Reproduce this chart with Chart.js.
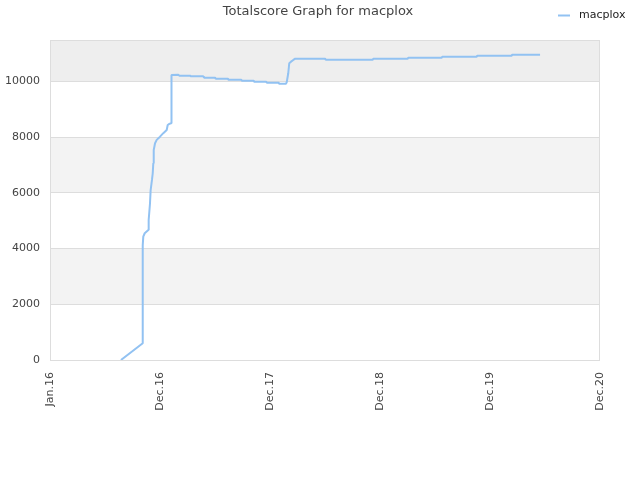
<!DOCTYPE html>
<html>
<head>
<meta charset="utf-8">
<script src="https://cdn.jsdelivr.net/npm/chart.js@4"></script>
<style>
html,body{margin:0;padding:0;background:#fff;}
#wrap{width:640px;height:480px;}
</style>
</head>
<body>
<div id="wrap"><canvas id="c" width="640" height="480"></canvas></div>
<script>
// Tick labels of the x axis (one per equally spaced tick)
const xTickLabels = ["Jan.16", "Dec.16", "Dec.17", "Dec.18", "Dec.19", "Dec.20"];
// x positions in tick units (0 = Jan.16, 1 = Dec.16, ...)
const scoreX = [0.645, 0.843, 0.843, 0.848, 0.861, 0.894, 0.897, 0.909, 0.915, 0.927, 0.934, 0.939, 0.943, 0.955, 0.970, 1.000, 1.030, 1.061, 1.070, 1.085, 1.100, 1.100, 1.109, 1.166, 1.175, 1.273, 1.282, 1.394, 1.400, 1.500, 1.506, 1.618, 1.621, 1.739, 1.743, 1.852, 1.855, 1.966, 1.970, 2.079, 2.082, 2.145, 2.152, 2.166, 2.175, 2.191, 2.212, 2.230, 2.500, 2.506, 2.934, 2.939, 3.252, 3.257, 3.561, 3.566, 3.879, 3.885, 4.197, 4.203, 4.455];
// total score values
const scoreY = [0, 600, 4110, 4425, 4547, 4662, 5024, 5615, 6097, 6459, 6700, 7057, 7535, 7776, 7896, 8012, 8138, 8253, 8429, 8469, 8494, 9333, 10227, 10237, 10200, 10200, 10176, 10176, 10129, 10129, 10093, 10093, 10057, 10057, 10021, 10021, 9986, 9986, 9950, 9950, 9914, 9914, 9965, 10287, 10646, 10703, 10764, 10810, 10810, 10775, 10775, 10810, 10810, 10846, 10846, 10882, 10882, 10918, 10918, 10954, 10954];
const yTicks = [0, 2000, 4000, 6000, 8000, 10000];
const yMax = 11480;
const seriesName = "macplox";
const titleText = "Totalscore Graph for macplox";

const points = scoreX.map((x, i) => ({x: x, y: scoreY[i]}));
const FONT = "'DejaVu Sans', Verdana, sans-serif";
const LINE_COLOR = '#92c2f2';

const bandPlugin = {
  id: 'bands',
  beforeDraw(chart) {
    const {ctx, chartArea: a, scales: {y}} = chart;
    ctx.save();
    const edges = yTicks.concat([yMax]);
    for (let i = 0; i < edges.length - 1; i++) {
      let col = null;
      if (i % 2 === 1) col = '#f3f3f3';
      if (i === edges.length - 2) col = '#eeeeee';
      if (!col) continue;
      const top = y.getPixelForValue(edges[i + 1]);
      const bot = y.getPixelForValue(edges[i]);
      ctx.fillStyle = col;
      ctx.fillRect(a.left, top, a.right - a.left, bot - top);
    }
    ctx.restore();
  },
  afterDraw(chart) {
    const {ctx, chartArea: a} = chart;
    ctx.save();
    ctx.strokeStyle = '#dddddd';
    ctx.lineWidth = 1;
    ctx.strokeRect(a.left + 0.5, a.top + 0.5, a.right - a.left - 1, a.bottom - a.top);
    // title
    ctx.fillStyle = '#444444';
    ctx.font = '13px ' + FONT;
    ctx.textAlign = 'center';
    ctx.textBaseline = 'middle';
    ctx.fillText(titleText, 318, 12);
    // legend
    ctx.strokeStyle = LINE_COLOR;
    ctx.lineWidth = 2;
    ctx.beginPath();
    ctx.moveTo(558, 15.5);
    ctx.lineTo(570, 15.5);
    ctx.stroke();
    ctx.fillStyle = '#222222';
    ctx.font = '11px ' + FONT;
    ctx.textAlign = 'left';
    ctx.fillText(seriesName, 579, 15);
    ctx.restore();
  }
};

new Chart(document.getElementById('c'), {
  type: 'line',
  data: {
    datasets: [{
      label: seriesName,
      data: points,
      borderColor: LINE_COLOR,
      borderWidth: 2,
      borderJoinStyle: 'bevel',
      pointRadius: 0,
      fill: false,
      tension: 0
    }]
  },
  options: {
    responsive: false,
    animation: false,
    devicePixelRatio: 1,
    layout: {padding: {top: 40, right: 40, left: 0, bottom: 0}},
    plugins: {legend: {display: false}, title: {display: false}, tooltip: {enabled: false}},
    scales: {
      x: {
        type: 'linear',
        min: 0, max: 5,
        afterFit(s) { s.height = 120; },
        afterBuildTicks(s) { s.ticks = xTickLabels.map((_, i) => ({value: i})); },
        grid: {display: false, drawTicks: false},
        border: {display: false},
        ticks: {
          callback: (v) => xTickLabels[v] ?? '',
          maxRotation: 90, minRotation: 90,
          padding: 12,
          color: '#444444',
          font: {family: FONT, size: 11},
          autoSkip: false
        }
      },
      y: {
        min: 0, max: yMax,
        afterFit(s) { s.width = 50; },
        afterBuildTicks(s) { s.ticks = yTicks.map(v => ({value: v})); },
        grid: {color: '#dddddd', drawTicks: false, lineWidth: 1},
        border: {display: false},
        ticks: {
          callback: (v) => String(v),
          padding: 10,
          color: '#444444',
          font: {family: FONT, size: 11}
        }
      }
    }
  },
  plugins: [bandPlugin]
});
</script>
</body>
</html>
